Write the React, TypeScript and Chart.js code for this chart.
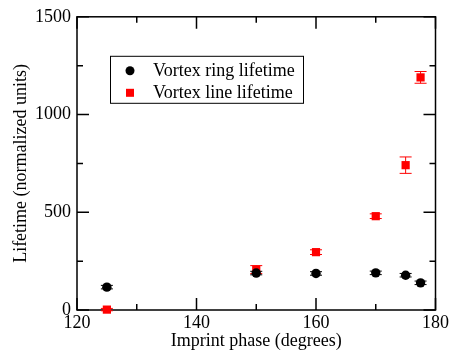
import React, { useEffect, useRef } from "react";
import { Chart, registerables } from "chart.js";
Chart.register(...registerables);

// ---- data ----
const ringPhase = [125, 150, 160, 170, 175, 177.5];
const ringLifetime = [117, 189, 187, 190, 178, 139];
const ringError = [9, 9, 9, 9, 9, 9];

const linePhase = [125, 150, 160, 170, 175, 177.5];
const lineLifetime = [2, 207, 296, 480, 741, 1190];
const lineError = [6, 20, 12, 12, 42, 30];

const xMajor = [120, 140, 160, 180];
const xMinor = [130, 150, 170];
const yMajor = [0, 500, 1000, 1500];
const yMinor = [250, 750, 1250];

const seriesNames = ["Vortex ring lifetime", "Vortex line lifetime"];
const xTitle = "Imprint phase (degrees)";
const yTitle = "Lifetime (normalized units)";

const FONT = "'Liberation Serif', 'Times New Roman', serif";
const errors = [ringError, lineError];
const colors = ["#000000", "#ff0000"];

const framePlugin = {
  id: "frame",
  beforeDatasetsDraw(chart: any) {
    const { ctx, chartArea: a, scales } = chart;
    const xs = scales.x, ys = scales.y;
    ctx.save();
    ctx.strokeStyle = "#000";
    ctx.lineWidth = 1.5;
    ctx.strokeRect(a.left, a.top, a.right - a.left, a.bottom - a.top);
    const tick = (vals: number[], len: number) => {
      ctx.beginPath();
      for (const v of vals) {
        const px = xs.getPixelForValue(v);
        ctx.moveTo(px, a.bottom); ctx.lineTo(px, a.bottom - len);
        ctx.moveTo(px, a.top); ctx.lineTo(px, a.top + len);
      }
      ctx.stroke();
    };
    const tickY = (vals: number[], len: number) => {
      ctx.beginPath();
      for (const v of vals) {
        const py = ys.getPixelForValue(v);
        ctx.moveTo(a.left, py); ctx.lineTo(a.left + len, py);
        ctx.moveTo(a.right, py); ctx.lineTo(a.right - len, py);
      }
      ctx.stroke();
    };
    tick(xMajor, 12); tick(xMinor, 6);
    tickY(yMajor, 12); tickY(yMinor, 6);
    // error bars
    chart.data.datasets.forEach((ds: any, i: number) => {
      const err = errors[i];
      ctx.strokeStyle = colors[i];
      ctx.lineWidth = 1;
      ds.data.forEach((p: any, j: number) => {
        const px = xs.getPixelForValue(p.x);
        const y1 = ys.getPixelForValue(p.y + err[j]);
        const y0 = ys.getPixelForValue(p.y - err[j]);
        const cap = 6;
        ctx.beginPath();
        ctx.moveTo(px, y0); ctx.lineTo(px, y1);
        ctx.moveTo(px - cap, y0); ctx.lineTo(px + cap, y0);
        ctx.moveTo(px - cap, y1); ctx.lineTo(px + cap, y1);
        ctx.stroke();
      });
    });
    ctx.restore();
  },
};

const legendPlugin = {
  id: "boxLegend",
  afterDraw(chart: any) {
    const { ctx, chartArea: a } = chart;
    const left = a.left + 33, top = a.top + 39, w = 193, h = 47;
    ctx.save();
    ctx.fillStyle = "#fff";
    ctx.fillRect(left, top, w, h);
    ctx.strokeStyle = "#000";
    ctx.lineWidth = 1;
    ctx.strokeRect(left + 0.5, top + 0.5, w, h);
    ctx.font = `18px ${FONT}`;
    ctx.textBaseline = "middle";
    const rows = [top + 15, top + 37];
    ctx.fillStyle = colors[0];
    ctx.beginPath();
    ctx.arc(left + 20, rows[0], 4.5, 0, Math.PI * 2);
    ctx.fill();
    ctx.fillStyle = colors[1];
    ctx.fillRect(left + 16, rows[1] - 4, 8, 8);
    ctx.fillStyle = "#000";
    ctx.fillText(seriesNames[0], left + 43, rows[0]);
    ctx.fillText(seriesNames[1], left + 43, rows[1]);
    ctx.restore();
  },
};

export default function App() {
  const ref = useRef<HTMLCanvasElement>(null);
  useEffect(() => {
    document.body.style.margin = "0";
    const chart = new Chart(ref.current!, {
      type: "scatter",
      data: {
        datasets: [
          {
            label: seriesNames[0],
            data: ringPhase.map((x, i) => ({ x, y: ringLifetime[i] })),
            backgroundColor: colors[0],
            borderWidth: 0,
            pointStyle: "circle",
            pointRadius: 4.7,
            clip: false,
          },
          {
            label: seriesNames[1],
            data: linePhase.map((x, i) => ({ x, y: lineLifetime[i] })),
            backgroundColor: colors[1],
            borderWidth: 0,
            pointStyle: "rect",
            pointRadius: 5.8,
            clip: false,
          },
        ] as any,
      },
      options: {
        animation: false,
        responsive: false,
        layout: { padding: { top: 16, right: 14, left: 0, bottom: 0 } },
        plugins: { legend: { display: false }, tooltip: { enabled: false } },
        scales: {
          x: {
            type: "linear",
            min: 120,
            max: 180,
            grid: { display: false, drawTicks: false },
            border: { display: false },
            ticks: { stepSize: 20, padding: 2, color: "#000", font: { family: FONT, size: 18 }, callback: (v: any) => String(v) },
            title: { display: true, text: xTitle, color: "#000", font: { family: FONT, size: 18 }, padding: { top: 0, bottom: 2 } },
            afterFit: (s: any) => { s.height = 44; },
          },
          y: {
            type: "linear",
            min: 0,
            max: 1500,
            grid: { display: false, drawTicks: false },
            border: { display: false },
            ticks: { stepSize: 500, padding: 6, color: "#000", font: { family: FONT, size: 18 }, callback: (v: any) => String(v) },
            title: { display: true, text: yTitle, color: "#000", font: { family: FONT, size: 18 }, padding: { top: 10, bottom: 0 } },
            afterFit: (s: any) => { s.width = 77; },
          },
        },
      },
      plugins: [framePlugin, legendPlugin],
    });
    return () => chart.destroy();
  }, []);
  return <canvas ref={ref} width={451} height={354} style={{ display: "block" }} />;
}
